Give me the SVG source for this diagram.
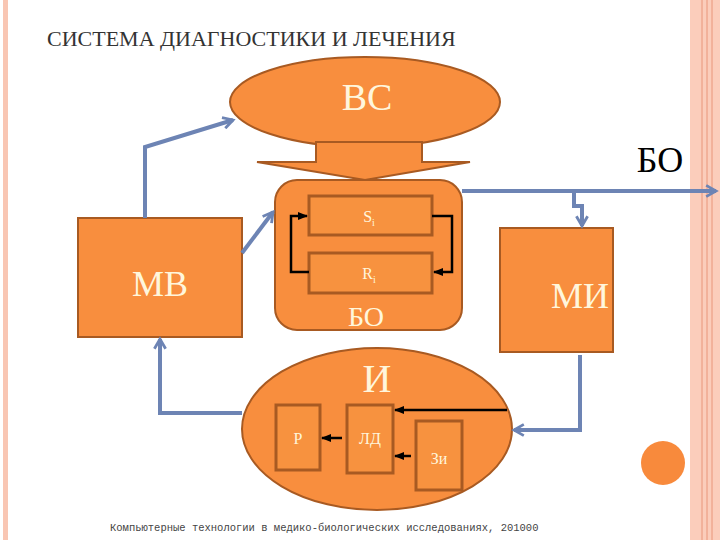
<svg xmlns="http://www.w3.org/2000/svg" width="720" height="540" viewBox="0 0 720 540">
<defs>
<style>
.o{fill:#f88e3e;stroke:#a85a22;stroke-width:2}
.in{fill:#f7923f;stroke:#a85a22;stroke-width:3}
.s{font-family:"Liberation Serif","Times New Roman","DejaVu Serif","Noto Serif",serif}
.t{fill:#fff6dc;text-anchor:middle}
.b{fill:none;stroke:#6d84b4;stroke-width:4}
.k{fill:none;stroke:#000;stroke-width:2.5}
</style>
<marker id="ab" viewBox="0 0 10 10" refX="8" refY="5" markerWidth="3.5" markerHeight="3.5" orient="auto"><path d="M1,1 L8,5 L1,9" fill="none" stroke="#6d84b4" stroke-width="2"/></marker>
<marker id="ak" viewBox="0 0 10 10" refX="9" refY="5" markerWidth="4" markerHeight="4" orient="auto"><path d="M0,1 L10,5 L0,9 Z" fill="#000"/></marker>
</defs>
<rect width="720" height="540" fill="#fff"/>
<rect x="3" y="0" width="5" height="540" fill="#f9c6b3"/>
<rect x="690" y="0" width="30" height="540" fill="#fbcdbb"/>
<line x1="702" y1="0" x2="702" y2="540" stroke="#e9967a" stroke-width="1"/>
<line x1="707" y1="0" x2="707" y2="540" stroke="#e9967a" stroke-width="1"/>
<line x1="712" y1="0" x2="712" y2="540" stroke="#e9967a" stroke-width="1"/>
<text class="s" x="47" y="46" font-size="22" fill="#333">СИСТЕМА ДИАГНОСТИКИ И ЛЕЧЕНИЯ</text>
<g id="bc"><ellipse class="o" cx="365" cy="102" rx="135" ry="45"/><text class="s t" x="367" y="110" font-size="38">ВС</text></g>
<g id="down"><path class="o" d="M316,142 L422,142 L422,162 L470,162 L365,180 L257,162 L316,162 Z"/></g>
<g id="bo"><rect class="o" x="275" y="180" width="187" height="150" rx="22"/><text class="s t" x="366" y="326" font-size="28">БО</text></g>
<g id="si"><rect class="in" x="309" y="196" width="123" height="39"/><text class="s t" x="369" y="222" font-size="16">S<tspan font-size="10" dy="4">i</tspan></text></g>
<g id="ri"><rect class="in" x="309" y="253" width="123" height="40"/><text class="s t" x="369" y="279" font-size="16">R<tspan font-size="10" dy="4">i</tspan></text></g>
<g id="mb"><rect class="o" x="78" y="218" width="164" height="119"/><text class="s t" x="160" y="296" font-size="36">МВ</text></g>
<g id="mi"><rect class="o" x="500" y="228" width="113" height="124"/><text class="s t" x="580" y="308" font-size="36">МИ</text></g>
<g id="i"><ellipse class="o" cx="377" cy="429" rx="135" ry="81"/><text class="s t" x="377" y="392" font-size="40">И</text></g>
<g id="p"><rect class="in" x="276" y="405" width="44" height="65"/><text class="s t" x="298" y="444" font-size="16">Р</text></g>
<g id="ld"><rect class="in" x="347" y="405" width="46" height="68"/><text class="s t" x="370" y="444" font-size="16">ЛД</text></g>
<g id="zi"><rect class="in" x="416" y="421" width="46" height="69"/><text class="s t" x="439" y="464" font-size="16">Зи</text></g>
<text class="s" x="660" y="172" font-size="36" text-anchor="middle" fill="#000">БО</text>
<g id="connectors">
<path class="b" d="M145,218 L145,147 L233,120" marker-end="url(#ab)"/>
<path class="b" d="M242,253 L273,212" marker-end="url(#ab)"/>
<path class="b" d="M462,191 L716,191" marker-end="url(#ab)"/>
<path class="b" d="M574,191 L574,206 L582,206 L582,226" marker-end="url(#ab)"/>
<path class="b" d="M580,355 L580,430 L514,430" marker-end="url(#ab)"/>
<path class="b" d="M242,413 L160,413 L160,339" marker-end="url(#ab)"/>
<path class="k" d="M432,216 L452,216 L452,272 L434,272" marker-end="url(#ak)"/>
<path class="k" d="M309,272 L291,272 L291,216 L307,216" marker-end="url(#ak)"/>
<path class="k" d="M507,410 L395,410" marker-end="url(#ak)"/>
<path class="k" d="M342,438 L322,438" marker-end="url(#ak)"/>
<path class="k" d="M411,456 L395,456" marker-end="url(#ak)"/>
</g>
<circle cx="663" cy="463" r="22" fill="#f88a3c"/>
<text x="110" y="531" font-family="Liberation Mono,monospace" font-size="10.5" fill="#444">Компьютерные технологии в медико-биологических исследованиях, 201000</text>
</svg>
